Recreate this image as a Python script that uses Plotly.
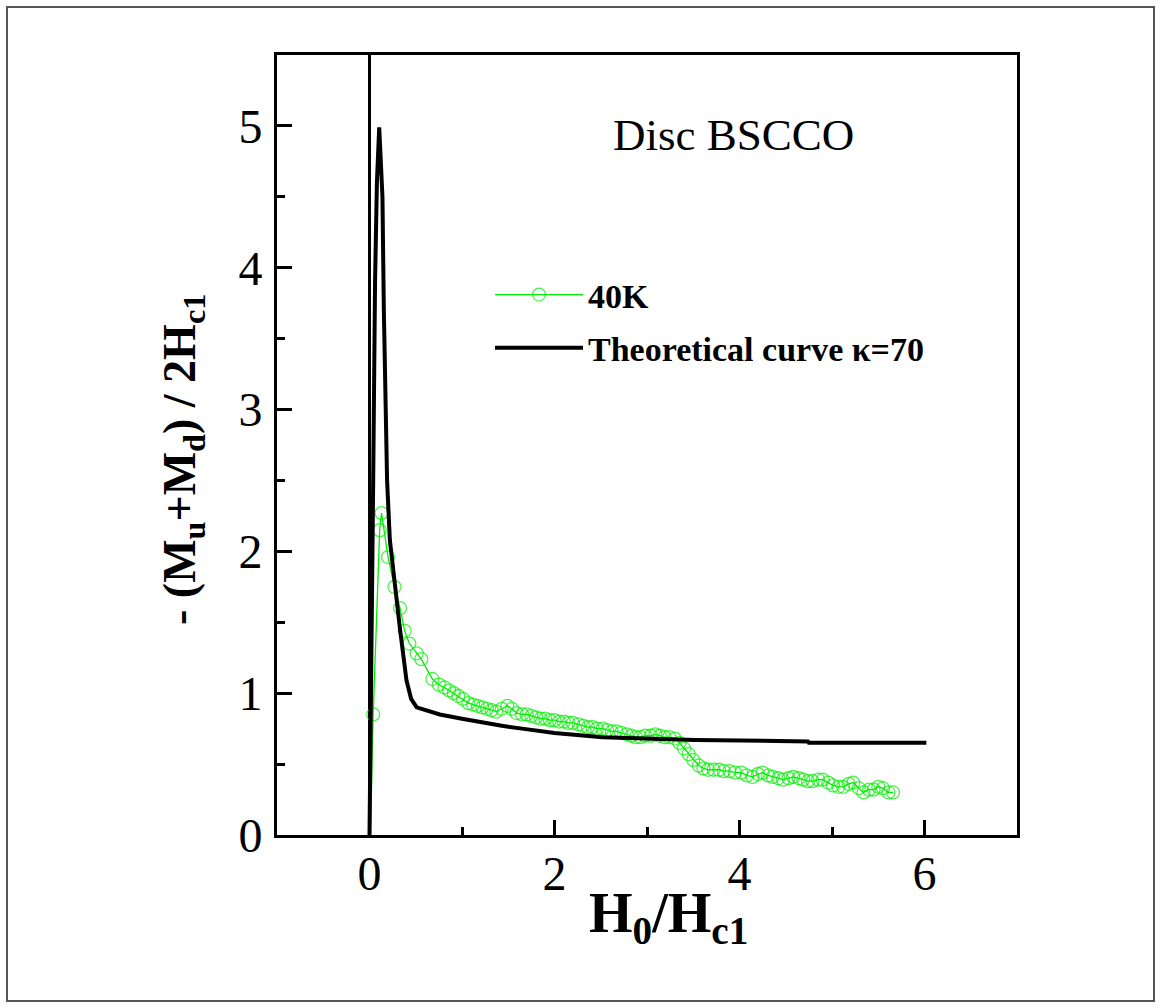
import plotly.graph_objects as go

# ---- data ----
theory_x = [0.0, 0.02, 0.04, 0.06, 0.08, 0.105, 0.14, 0.155, 0.17, 0.19, 0.22, 0.28, 0.33,
            0.40, 0.45, 0.51, 0.60, 0.76, 1.00, 1.16, 1.43, 1.65, 2.00, 2.52, 3.00, 3.52,
            4.74, 4.75, 6.02]
theory_y = [0.0, 1.0, 2.5, 3.9, 4.6, 4.99, 4.5, 3.7, 3.0, 2.5, 2.08, 1.7, 1.45,
            1.09, 0.96, 0.90, 0.88, 0.85, 0.82, 0.80, 0.77, 0.75, 0.72, 0.69, 0.68, 0.67,
            0.66, 0.65, 0.65]

k40_x = [0.01, 0.04, 0.11, 0.13, 0.20, 0.27, 0.33, 0.38, 0.43, 0.51, 0.56, 0.68, 0.75,
         0.81, 0.86, 0.91, 0.96, 1.01, 1.07, 1.12, 1.17, 1.22, 1.27, 1.32, 1.37, 1.43,
         1.49, 1.54, 1.59, 1.65, 1.70, 1.75, 1.80, 1.85, 1.90, 1.95, 2.00, 2.05, 2.10,
         2.15, 2.20, 2.26, 2.31, 2.36, 2.41, 2.46, 2.52, 2.57, 2.62, 2.67, 2.72, 2.78,
         2.83, 2.88, 2.93, 2.98, 3.04, 3.09, 3.14, 3.19, 3.24, 3.30, 3.35, 3.40, 3.45,
         3.50, 3.56, 3.61, 3.66, 3.72, 3.78, 3.83, 3.89, 3.95, 4.02, 4.08, 4.14, 4.20,
         4.25, 4.31, 4.36, 4.42, 4.47, 4.53, 4.58, 4.64, 4.69, 4.74, 4.79, 4.85, 4.90,
         4.96, 5.01, 5.07, 5.12, 5.18, 5.23, 5.29, 5.34, 5.40, 5.45, 5.50, 5.55, 5.61,
         5.66]
k40_y = [0.0, 0.85, 2.15, 2.27, 1.96, 1.75, 1.60, 1.44, 1.35, 1.28, 1.24, 1.10, 1.06,
         1.04, 1.02, 1.00, 0.98, 0.96, 0.93, 0.92, 0.91, 0.90, 0.89, 0.88, 0.87, 0.89,
         0.91, 0.89, 0.86, 0.85, 0.85, 0.84, 0.83, 0.82, 0.82, 0.81, 0.81, 0.80, 0.80,
         0.79, 0.79, 0.78, 0.77, 0.76, 0.76, 0.75, 0.75, 0.74, 0.73, 0.73, 0.72, 0.71,
         0.70, 0.69, 0.69, 0.70, 0.70, 0.71, 0.70, 0.69, 0.69, 0.68, 0.65, 0.61, 0.57,
         0.53, 0.49, 0.47, 0.46, 0.46, 0.46, 0.45, 0.45, 0.44, 0.44, 0.42, 0.41, 0.43,
         0.44, 0.42, 0.41, 0.40, 0.39, 0.40, 0.41, 0.40, 0.39, 0.38, 0.38, 0.39, 0.39,
         0.37, 0.35, 0.34, 0.34, 0.36, 0.37, 0.33, 0.30, 0.32, 0.32, 0.34, 0.33, 0.30,
         0.30]

x_ticks = [0, 2, 4, 6]
y_ticks = [0, 1, 2, 3, 4, 5]

GREEN = "#00ee00"
SERIF = "Liberation Serif, Times New Roman, serif"

fig = go.Figure()

marker_sizes = [0] + [13] * (len(k40_x) - 1)
fig.add_trace(go.Scatter(
    x=k40_x, y=k40_y, mode="lines+markers", name="40K",
    line=dict(color=GREEN, width=1.3),
    marker=dict(symbol="circle-open", size=marker_sizes, color=GREEN,
                line=dict(color=GREEN, width=1.3)),
    legendgroup="a",
))
fig.add_trace(go.Scatter(
    x=theory_x, y=theory_y, mode="lines", name="Theoretical curve \u03ba=70",
    line=dict(color="black", width=4),
    legendgroup="b",
))

L, R, T, B = 277, 144, 55, 173
W, H = 1161, 1008
pw, ph = W - L - R, H - T - B

def px(x):
    return (x - L) / pw

def py(y):
    return (H - B - y) / ph

axis_common = dict(
    showline=True, linecolor="black", linewidth=3, mirror=True,
    ticks="inside", ticklen=15, tickwidth=2.5, tickcolor="black",
    showgrid=False,
    tickfont=dict(family=SERIF, size=48, color="black"),
)

fig.update_layout(
    width=W, height=H,
    margin=dict(l=L, r=R, t=T, b=B),
    paper_bgcolor="white", plot_bgcolor="white",
    xaxis=dict(range=[-1, 7], tickvals=x_ticks, zeroline=True, zerolinecolor="black",
               zerolinewidth=2.5, ticklabelstandoff=-6,
               minor=dict(dtick=1, tick0=0, ticks="inside", ticklen=8, tickwidth=2.5,
                          tickcolor="black"),
               **axis_common),
    yaxis=dict(range=[0, 5.5], tickvals=y_ticks, zeroline=False, ticklabelstandoff=2,
               minor=dict(dtick=0.5, tick0=0, ticks="inside", ticklen=8, tickwidth=2.5,
                          tickcolor="black"),
               **axis_common),
    showlegend=True,
    legend=dict(
        x=px(490), y=py(266), xanchor="left", yanchor="top",
        bgcolor="rgba(0,0,0,0)", itemwidth=88, tracegroupgap=6,
        font=dict(family=SERIF, size=34, color="black", weight="bold"),
        itemclick=False,
    ),
    annotations=[
        dict(text="Disc BSCCO", x=px(733), y=py(135), xref="paper", yref="paper",
             showarrow=False, xanchor="center", yanchor="middle",
             font=dict(family=SERIF, size=45, color="black")),
        dict(text="<b>H<sub>0</sub>/H<sub>c1</sub></b>", x=px(668), y=py(917),
             xref="paper", yref="paper", showarrow=False, xanchor="center",
             yanchor="middle", font=dict(family=SERIF, size=56, color="black")),
        dict(text="<b>- (M<sub>u</sub>+M<sub>d</sub>) / 2H<sub>c1</sub></b>",
             x=px(183), y=py(460), xref="paper", yref="paper", showarrow=False,
             xanchor="center", yanchor="middle", textangle=-90,
             font=dict(family=SERIF, size=46, color="black")),
    ],
    shapes=[
        dict(type="rect", xref="paper", yref="paper",
             x0=px(7), x1=px(1154), y0=py(1001), y1=py(7),
             line=dict(color="#555555", width=2), layer="below"),
    ],
)

fig.write_html("out.html")
